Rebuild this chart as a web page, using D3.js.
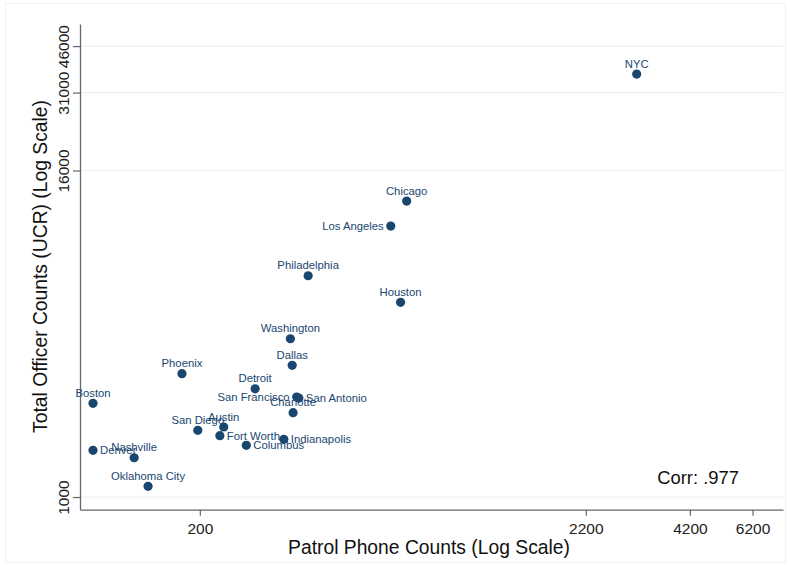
<!DOCTYPE html>
<html>
<head>
<meta charset="utf-8">
<script src="https://cdn.jsdelivr.net/npm/d3@7"></script>
<style>
  html, body { margin: 0; padding: 0; background: #fff; }
  svg { display: block; font-family: "Liberation Sans", Arial, Helvetica, sans-serif; }
</style>
</head>
<body>
<div id="chart"></div>
<script>
// data
var cities   = ["NYC", "Chicago", "Los Angeles", "Philadelphia", "Houston", "Washington", "Dallas",
                "Phoenix", "Detroit", "Boston", "San Francisco", "San Antonio", "Charlotte", "San Diego",
                "Austin", "Fort Worth", "Columbus", "Indianapolis", "Nashville", "Denver", "Oklahoma City"];
var phones   = [3018, 723, 655, 392, 696, 351, 355, 179, 282, 103, 365, 370, 357, 197.5, 232, 226.5, 267, 337, 133, 103, 145];
var officers = [36270, 12340, 9984, 6546, 5223, 3834, 3059, 2849, 2507, 2215, 2337, 2317, 2046, 1762, 1812, 1683, 1551, 1632, 1396, 1487, 1095];
// marker label position (clock): 12 above, 3 right, 9 left
var labelPos = [12, 12, 9, 12, 12, 12, 12, 12, 12, 12, 9, 3, 12, 12, 12, 3, 3, 3, 12, 3, 12];

var xTicks = [200, 2200, 4200, 6200];
var yTicks = [1000, 16000, 31000, 46000];
var corrText = "Corr: .977";

var W = 790, H = 565;
var navy = "#1a476f";

var svg = d3.select("#chart").append("svg")
    .attr("width", W)
    .attr("height", H);

// faint outer frame of the graph region
svg.append("rect")
    .attr("x", 5.5).attr("y", 3.5)
    .attr("width", 780).attr("height", 559)
    .attr("fill", "none")
    .attr("stroke", "#f0f2f2");

// log scales
var x = d3.scaleLog().domain([95, 7490]).range([80, 783]);
var y = d3.scaleLog().domain([898, 55500]).range([509.7, 24]);

// gridlines on y ticks
svg.append("g")
    .selectAll("line")
    .data(yTicks)
    .enter()
    .append("line")
    .attr("x1", 80).attr("x2", 783)
    .attr("y1", d => y(d)).attr("y2", d => y(d))
    .attr("stroke", "#eaf1f2")
    .attr("stroke-width", 1.2);

// y axis
var yAxis = svg.append("g")
    .attr("transform", "translate(80,0)")
    .call(d3.axisLeft(y).tickValues(yTicks).tickSizeInner(7).tickSizeOuter(0).tickFormat(d3.format("d")));
yAxis.select(".domain").attr("stroke", "#666").attr("stroke-width", 1.3);
yAxis.selectAll(".tick line").attr("stroke", "#666").attr("stroke-width", 1.2);
yAxis.selectAll(".tick text")
    .attr("x", 0).attr("dy", 0)
    .attr("transform", "translate(-11.5,0) rotate(-90)")
    .style("text-anchor", "middle")
    .style("font-size", "15.5px")
    .style("fill", "#222");

// x axis
var xAxis = svg.append("g")
    .attr("transform", "translate(0,509.7)")
    .call(d3.axisBottom(x).tickValues(xTicks).tickSizeInner(6).tickSizeOuter(0).tickFormat(d3.format("d")));
xAxis.select(".domain").attr("stroke", "#666").attr("stroke-width", 1.3);
xAxis.selectAll(".tick line").attr("stroke", "#666").attr("stroke-width", 1.2);
xAxis.selectAll(".tick text")
    .attr("y", 24).attr("dy", 0)
    .style("font-size", "15.5px")
    .style("fill", "#222");

// axis titles
svg.append("text")
    .text("Patrol Phone Counts (Log Scale)")
    .attr("x", 429).attr("y", 554)
    .style("text-anchor", "middle")
    .style("font-size", "19.3px")
    .style("fill", "#111");

svg.append("text")
    .text("Total Officer Counts (UCR) (Log Scale)")
    .attr("transform", "translate(47,266.5) rotate(-90)")
    .style("text-anchor", "middle")
    .style("font-size", "19.3px")
    .style("fill", "#111");

// points
var pts = cities.map((c, i) => ({city: c, px: phones[i], off: officers[i], pos: labelPos[i]}));

svg.append("g")
    .selectAll("circle")
    .data(pts)
    .enter()
    .append("circle")
    .attr("cx", d => x(d.px))
    .attr("cy", d => y(d.off))
    .attr("r", 4.6)
    .attr("fill", navy);

// marker labels
svg.append("g")
    .selectAll("text")
    .data(pts)
    .enter()
    .append("text")
    .text(d => d.city)
    .attr("x", d => d.pos == 3 ? x(d.px) + 7 : d.pos == 9 ? x(d.px) - 7 : x(d.px))
    .attr("y", d => d.pos == 12 ? y(d.off) - 6.5 : y(d.off) + 4)
    .style("text-anchor", d => d.pos == 3 ? "start" : d.pos == 9 ? "end" : "middle")
    .style("font-size", "11.3px")
    .style("fill", navy);

// correlation note
svg.append("text")
    .text(corrText)
    .attr("x", 739).attr("y", 484)
    .style("text-anchor", "end")
    .style("font-size", "18.4px")
    .style("fill", "#111");
</script>
</body>
</html>
